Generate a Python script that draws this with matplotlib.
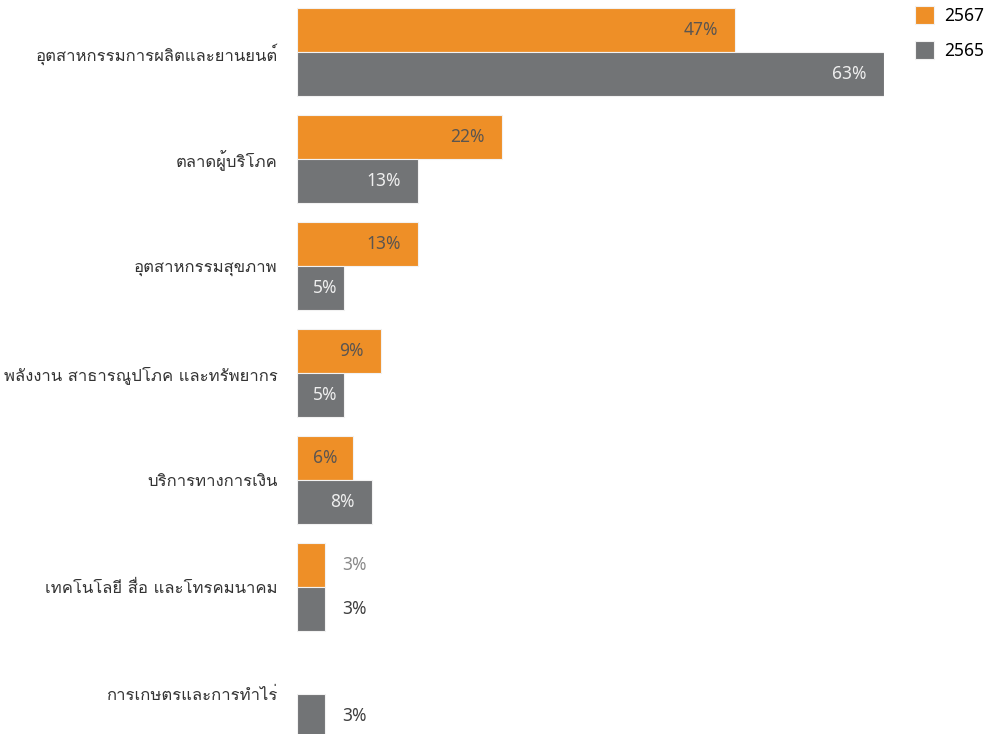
import numpy as np
import matplotlib
matplotlib.use("Agg")
import matplotlib.pyplot as plt
from matplotlib import font_manager
from matplotlib.ft2font import FT2Font
from matplotlib.transforms import offset_copy

# หาฟอนต์ที่มีอักษรไทย
thai_font = None
for path in sorted(font_manager.findSystemFonts()):
    try:
        if 0x0E01 in FT2Font(path).get_charmap():
            thai_font = font_manager.FontProperties(fname=path).get_name()
            break
    except Exception:
        pass
thai_fam = ([thai_font] if thai_font else []) + ['DejaVu Sans']
num_fam = ['Noto Sans', 'DejaVu Sans']
plt.rcParams['font.family'] = thai_fam

categories = ['อุตสาหกรรมการผลิตและยานยนต์', 'ตลาดผู้บริโภค', 'อุตสาหกรรมสุขภาพ',
              'พลังงาน สาธารณูปโภค และทรัพยากร', 'บริการทางการเงิน',
              'เทคโนโลยี สื่อ และโทรคมนาคม', 'การเกษตรและการทำไร่']
v2567 = [47, 22, 13, 9, 6, 3, np.nan]
v2565 = [63, 13, 5, 5, 8, 3, 3]

orange = '#EE8F27'
gray = '#727476'

fig = plt.figure(figsize=(9.91, 7.34), dpi=100)
ax = fig.add_axes([297 / 991, 0, (884 - 297) / 991, 1])

y = np.arange(len(categories))
h = 44 / 107
a = np.array(v2567, dtype=float)
ok = ~np.isnan(a)
b1 = ax.barh(y[ok] - h / 2, a[ok], height=h, color=orange,
             edgecolor='#f2f2f2', linewidth=0.8, label='2567')
b2 = ax.barh(y + h / 2, v2565, height=h, color=gray,
             edgecolor='#f2f2f2', linewidth=0.8, label='2565')

ax.set_xlim(0, 63)
ax.set_ylim((734 - 52) / 107, -52 / 107)
for s in ax.spines.values():
    s.set_visible(False)
ax.set_xticks([])
ax.set_yticks(y)
ax.set_yticklabels(categories, fontsize=12, color='#333333')
ax.tick_params(axis='y', length=0, pad=14)

# ป้ายค่า
def put_labels(vals, ypos, in_color, out_color):
    for v, yy in zip(vals, ypos):
        if np.isnan(v):
            continue
        txt = '%d%%' % v
        if v <= 3:
            tr = offset_copy(ax.transData, fig=fig, x=17, y=0, units='dots')
            ax.text(v, yy, txt, transform=tr, ha='left', va='center',
                    fontsize=12.5, color=out_color, family=num_fam)
        elif v <= 6:
            tr = offset_copy(ax.transData, fig=fig, x=16, y=0, units='dots')
            ax.text(0, yy, txt, transform=tr, ha='left', va='center',
                    fontsize=12.5, color=in_color, family=num_fam)
        else:
            tr = offset_copy(ax.transData, fig=fig, x=-17, y=0, units='dots')
            ax.text(v, yy, txt, transform=tr, ha='right', va='center',
                    fontsize=12.5, color=in_color, family=num_fam)

put_labels(v2567, y - h / 2, '#5b5550', '#8a8a8a')
put_labels(v2565, y + h / 2, '#eeeeee', '#404040')

fig.legend(handles=[b1, b2], labels=['2567', '2565'], loc='upper left',
           bbox_to_anchor=(915 / 991, 1 - 6 / 734), frameon=False,
           prop={'family': num_fam, 'size': 12.5},
           handlelength=1.1, handleheight=1.25,
           labelspacing=0.9, handletextpad=0.55, borderpad=0, borderaxespad=0)

fig.savefig('out.png', dpi=100)
